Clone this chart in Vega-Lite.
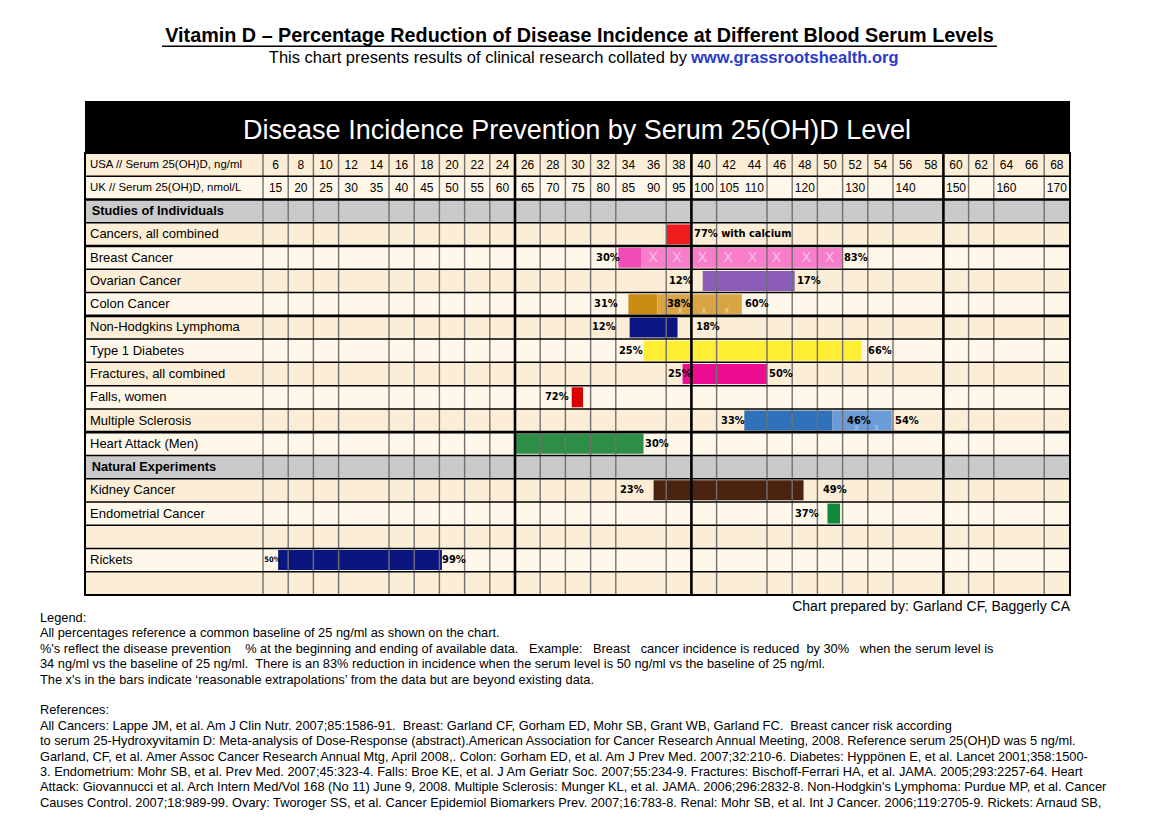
{
  "$schema": "https://vega.github.io/schema/vega-lite/v6.json",
  "width": 1153,
  "height": 839,
  "autosize": {"type": "none"},
  "padding": 0,
  "background": "#FFFFFF",
  "config": {"view": {"stroke": null}, "text": {"font": "Liberation Sans"}},
  "datasets": {
    "rows": [
      {"r": 0, "label": "USA // Serum 25(OH)D, ng/ml", "kind": "header"},
      {"r": 1, "label": "UK // Serum 25(OH)D, nmol/L", "kind": "header"},
      {"r": 2, "label": "Studies of Individuals", "kind": "section"},
      {"r": 3, "label": "Cancers, all combined", "kind": "study"},
      {"r": 4, "label": "Breast Cancer", "kind": "study"},
      {"r": 5, "label": "Ovarian Cancer", "kind": "study"},
      {"r": 6, "label": "Colon Cancer", "kind": "study"},
      {"r": 7, "label": "Non-Hodgkins Lymphoma", "kind": "study"},
      {"r": 8, "label": "Type 1 Diabetes", "kind": "study"},
      {"r": 9, "label": "Fractures, all combined", "kind": "study"},
      {"r": 10, "label": "Falls, women", "kind": "study"},
      {"r": 11, "label": "Multiple Sclerosis", "kind": "study"},
      {"r": 12, "label": "Heart Attack (Men)", "kind": "study"},
      {"r": 13, "label": "Natural Experiments", "kind": "section"},
      {"r": 14, "label": "Kidney Cancer", "kind": "study"},
      {"r": 15, "label": "Endometrial Cancer", "kind": "study"},
      {"r": 16, "label": "", "kind": "blank"},
      {"r": 17, "label": "Rickets", "kind": "study"},
      {"r": 18, "label": "", "kind": "blank"}
    ],
    "levels": [
      {"ng": 6, "nmol": 15}, {"ng": 8, "nmol": 20}, {"ng": 10, "nmol": 25}, {"ng": 12, "nmol": 30},
      {"ng": 14, "nmol": 35}, {"ng": 16, "nmol": 40}, {"ng": 18, "nmol": 45}, {"ng": 20, "nmol": 50},
      {"ng": 22, "nmol": 55}, {"ng": 24, "nmol": 60}, {"ng": 26, "nmol": 65}, {"ng": 28, "nmol": 70},
      {"ng": 30, "nmol": 75}, {"ng": 32, "nmol": 80}, {"ng": 34, "nmol": 85}, {"ng": 36, "nmol": 90},
      {"ng": 38, "nmol": 95}, {"ng": 40, "nmol": 100}, {"ng": 42, "nmol": 105}, {"ng": 44, "nmol": 110},
      {"ng": 46}, {"ng": 48, "nmol": 120}, {"ng": 50}, {"ng": 52, "nmol": 130},
      {"ng": 54}, {"ng": 56, "nmol": 140}, {"ng": 58}, {"ng": 60, "nmol": 150},
      {"ng": 62}, {"ng": 64, "nmol": 160}, {"ng": 66}, {"ng": 68, "nmol": 170}
    ],
    "bars": [
      {"r": 3, "start": 37.0, "end": 39.0, "bar": "Cancers, all combined"},
      {"r": 4, "start": 33.2, "end": 35.05, "bar": "Breast Cancer"},
      {"r": 4, "start": 35.05, "end": 50.95, "bar": "Breast Cancer (extrapolated)"},
      {"r": 5, "start": 39.9, "end": 47.2, "bar": "Ovarian Cancer"},
      {"r": 6, "start": 34.0, "end": 36.3, "bar": "Colon Cancer"},
      {"r": 6, "start": 36.3, "end": 43.0, "bar": "Colon Cancer (extrapolated)"},
      {"r": 7, "start": 34.1, "end": 37.9, "bar": "Non-Hodgkins Lymphoma"},
      {"r": 8, "start": 35.2, "end": 52.5, "bar": "Type 1 Diabetes"},
      {"r": 9, "start": 38.3, "end": 45.0, "bar": "Fractures, all combined"},
      {"r": 10, "start": 29.5, "end": 30.4, "bar": "Falls, women"},
      {"r": 11, "start": 43.2, "end": 50.2, "bar": "Multiple Sclerosis"},
      {"r": 11, "start": 50.2, "end": 54.9, "bar": "Multiple Sclerosis (extrapolated)"},
      {"r": 12, "start": 25.0, "end": 35.2, "bar": "Heart Attack (Men)"},
      {"r": 14, "start": 36.0, "end": 47.9, "bar": "Kidney Cancer"},
      {"r": 15, "start": 49.8, "end": 50.8, "bar": "Endometrial Cancer"},
      {"r": 17, "start": 6.2, "end": 19.2, "bar": "Rickets"}
    ],
    "xmarks": [
      {"r": 4, "v": 35.96, "m": "X"}, {"r": 4, "v": 37.86, "m": "X"}, {"r": 4, "v": 39.88, "m": "X"},
      {"r": 4, "v": 41.91, "m": "X"}, {"r": 4, "v": 43.85, "m": "X"}, {"r": 4, "v": 45.75, "m": "X"},
      {"r": 4, "v": 48.13, "m": "X"}, {"r": 4, "v": 49.98, "m": "X"},
      {"r": 6, "v": 38.1, "m": "x"}, {"r": 6, "v": 40.0, "m": "x"}, {"r": 6, "v": 41.8, "m": "x"},
      {"r": 11, "v": 52.1, "m": "x"}, {"r": 11, "v": 53.7, "m": "x"}
    ],
    "pct": [
      {"r": 3, "v": 39.21, "label": "77% with calcium"},
      {"r": 4, "v": 31.43, "label": "30%"}, {"r": 4, "v": 51.11, "label": "83%"},
      {"r": 5, "v": 37.22, "label": "12%"}, {"r": 5, "v": 47.38, "label": "17%"},
      {"r": 6, "v": 31.27, "label": "31%"}, {"r": 6, "v": 37.06, "label": "38%"}, {"r": 6, "v": 43.25, "label": "60%"},
      {"r": 7, "v": 31.11, "label": "12%"}, {"r": 7, "v": 39.37, "label": "18%"},
      {"r": 8, "v": 33.25, "label": "25%"}, {"r": 8, "v": 53.02, "label": "66%"},
      {"r": 9, "v": 37.14, "label": "25%"}, {"r": 9, "v": 45.16, "label": "50%"},
      {"r": 10, "v": 27.38, "label": "72%"},
      {"r": 11, "v": 41.35, "label": "33%"}, {"r": 11, "v": 51.35, "label": "46%"}, {"r": 11, "v": 55.16, "label": "54%"},
      {"r": 12, "v": 35.32, "label": "30%"},
      {"r": 14, "v": 33.33, "label": "23%"}, {"r": 14, "v": 49.44, "label": "49%"},
      {"r": 15, "v": 47.22, "label": "37%"},
      {"r": 17, "v": 5.1, "label": "50%"}, {"r": 17, "v": 19.21, "label": "99%"}
    ],
    "vlines": [
      {"v": 5}, {"v": 7}, {"v": 9}, {"v": 11}, {"v": 15}, {"v": 17}, {"v": 19}, {"v": 21}, {"v": 23},
      {"v": 25}, {"v": 27}, {"v": 29}, {"v": 31}, {"v": 33}, {"v": 37}, {"v": 39}, {"v": 41}, {"v": 45},
      {"v": 47}, {"v": 49}, {"v": 51}, {"v": 53}, {"v": 55}, {"v": 59}, {"v": 61}, {"v": 63}, {"v": 67}
    ],
    "notes": [
      {"line": 0, "t": "Legend:"},
      {"line": 1, "t": "All percentages reference a common baseline of 25 ng/ml as shown on the chart."},
      {"line": 2, "t": "%'s reflect the disease prevention\u00a0\u00a0\u00a0 % at the beginning and ending of available data.\u00a0\u00a0 Example:\u00a0\u00a0 Breast\u00a0\u00a0 cancer incidence is reduced\u00a0 by 30%\u00a0\u00a0 when the serum level is"},
      {"line": 3, "t": "34 ng/ml vs the baseline of 25 ng/ml.\u00a0 There is an 83% reduction in incidence when the serum level is 50 ng/ml vs the baseline of 25 ng/ml."},
      {"line": 4, "t": "The x's in the bars indicate \u2018reasonable extrapolations\u2019 from the data but are beyond existing data."},
      {"line": 6, "t": "References:"},
      {"line": 7, "t": "All Cancers: Lappe JM, et al. Am J Clin Nutr. 2007;85:1586-91.\u00a0 Breast: Garland CF, Gorham ED, Mohr SB, Grant WB, Garland FC.\u00a0 Breast cancer risk according"},
      {"line": 8, "t": "to serum 25-Hydroxyvitamin D: Meta-analysis of Dose-Response (abstract).American Association for Cancer Research Annual Meeting, 2008. Reference serum 25(OH)D was 5 ng/ml."},
      {"line": 9, "t": "Garland, CF, et al. Amer Assoc Cancer Research Annual Mtg, April 2008,. Colon: Gorham ED, et al. Am J Prev Med. 2007;32:210-6. Diabetes: Hypp\u00f6nen E, et al. Lancet 2001;358:1500-"},
      {"line": 10, "t": "3. Endometrium: Mohr SB, et al. Prev Med. 2007;45:323-4. Falls: Broe KE, et al. J Am Geriatr Soc. 2007;55:234-9. Fractures: Bischoff-Ferrari HA, et al. JAMA. 2005;293:2257-64. Heart"},
      {"line": 11, "t": "Attack: Giovannucci et al. Arch Intern Med/Vol 168 (No 11) June 9, 2008. Multiple Sclerosis: Munger KL, et al. JAMA. 2006;296:2832-8. Non-Hodgkin's Lymphoma: Purdue MP, et al. Cancer"},
      {"line": 12, "t": "Causes Control. 2007;18:989-99. Ovary: Tworoger SS, et al. Cancer Epidemiol Biomarkers Prev. 2007;16:783-8. Renal: Mohr SB, et al. Int J Cancer. 2006;119:2705-9. Rickets: Arnaud SB,"}
    ]
  },
  "layer": [
    {
      "layer": [
        {
          "data": {"values": [{"t": "Disease Incidence Prevention by Serum 25(OH)D Level"}]},
          "layer": [
            {
              "mark": {"type": "rect", "color": "#000000"},
              "encoding": {
                "x": {"datum": -9.127, "type": "quantitative", "scale": {"domain": [-15.873, 75.635], "nice": false, "zero": false}, "axis": null},
                "x2": {"datum": 69.05},
                "y": {"datum": -2.735, "type": "quantitative", "scale": {"domain": [-7.077, 28.989], "nice": false, "zero": false, "reverse": true}, "axis": null},
                "y2": {"datum": -0.5}
              }
            },
            {
              "mark": {"type": "text", "color": "#FFFFFF", "font": "Liberation Sans", "fontSize": 27, "align": "center", "baseline": "middle"},
              "encoding": {
                "x": {"datum": 29.92, "type": "quantitative"},
                "y": {"datum": -1.45, "type": "quantitative"},
                "text": {"field": "t"}
              }
            }
          ]
        },
        {
          "data": {"name": "rows"},
          "mark": {"type": "rule", "strokeWidth": 23.6, "strokeCap": "butt"},
          "encoding": {
            "x": {"datum": -9.127, "type": "quantitative"},
            "x2": {"datum": 69.05},
            "y": {"field": "r", "type": "quantitative"},
            "color": {
              "condition": [
                {"test": "datum.kind === 'section'", "value": "#CACACA"},
                {"test": "datum.r === 0 || (datum.r >= 3 && datum.r <= 12 && datum.r % 2 === 1) || (datum.r >= 14 && datum.r % 2 === 0)", "value": "#FCEED6"}
              ],
              "value": "#FFF8EA"
            }
          }
        },
        {
          "data": {"name": "bars"},
          "mark": {"type": "rule", "strokeWidth": 20, "strokeCap": "butt"},
          "encoding": {
            "x": {"field": "start", "type": "quantitative"},
            "x2": {"field": "end"},
            "y": {"field": "r", "type": "quantitative"},
            "color": {
              "field": "bar", "type": "nominal", "legend": null,
              "scale": {
                "domain": ["Cancers, all combined", "Breast Cancer", "Breast Cancer (extrapolated)", "Ovarian Cancer", "Colon Cancer", "Colon Cancer (extrapolated)", "Non-Hodgkins Lymphoma", "Type 1 Diabetes", "Fractures, all combined", "Falls, women", "Multiple Sclerosis", "Multiple Sclerosis (extrapolated)", "Heart Attack (Men)", "Kidney Cancer", "Endometrial Cancer", "Rickets"],
                "range": ["#EE1C1C", "#EF4DB5", "#F87DCA", "#8B5CB8", "#C98B14", "#D9A444", "#0B1584", "#FFEE33", "#EB0C92", "#D90000", "#2F72B9", "#6B9BD8", "#2E8E45", "#4A2410", "#118A3A", "#0B1580"]
              }
            }
          }
        },
        {
          "data": {"name": "xmarks"},
          "transform": [{"filter": "datum.m === 'X'"}],
          "mark": {"type": "text", "fontSize": 14, "color": "#F7C4E4", "align": "center", "baseline": "middle"},
          "encoding": {
            "x": {"field": "v", "type": "quantitative"},
            "y": {"field": "r", "type": "quantitative"},
            "text": {"field": "m"}
          }
        },
        {
          "data": {"name": "xmarks"},
          "transform": [{"filter": "datum.m === 'x'"}],
          "mark": {"type": "text", "fontSize": 9, "align": "center", "baseline": "middle", "dy": 6},
          "encoding": {
            "x": {"field": "v", "type": "quantitative"},
            "y": {"field": "r", "type": "quantitative"},
            "text": {"field": "m"},
            "color": {"condition": {"test": "datum.r === 6", "value": "#F2DDAA"}, "value": "#B4CCEE"}
          }
        },
        {
          "data": {"name": "vlines"},
          "mark": {"type": "rule"},
          "encoding": {
            "x": {"field": "v", "type": "quantitative"},
            "y": {"datum": -0.5, "type": "quantitative"},
            "y2": {"datum": 18.5},
            "color": {"condition": {"test": "indexof([25, 39, 59], datum.v) >= 0", "value": "#000000"}, "value": "#707070"},
            "strokeWidth": {"condition": {"test": "indexof([25, 39, 59], datum.v) >= 0", "value": 2.6}, "value": 1.4}
          }
        },
        {
          "data": {"name": "rows"},
          "mark": {"type": "rule", "color": "#000000", "yOffset": 11.63},
          "encoding": {
            "x": {"datum": -9.127, "type": "quantitative"},
            "x2": {"datum": 69.05},
            "y": {"field": "r", "type": "quantitative"},
            "strokeWidth": {"condition": {"test": "indexof([1, 3, 6, 11], datum.r) >= 0", "value": 2.6}, "value": 1.5}
          }
        },
        {
          "data": {"values": [{"t": "table"}]},
          "mark": {"type": "rect", "fill": "transparent", "stroke": "#000000", "strokeWidth": 2},
          "encoding": {
            "x": {"datum": -9.127, "type": "quantitative"},
            "x2": {"datum": 69.05},
            "y": {"datum": -0.5, "type": "quantitative"},
            "y2": {"datum": 18.5}
          }
        },
        {
          "data": {"name": "levels"},
          "mark": {"type": "text", "fontSize": 12, "align": "center", "baseline": "middle", "color": "#000000"},
          "encoding": {
            "x": {"field": "ng", "type": "quantitative"},
            "y": {"datum": 0, "type": "quantitative"},
            "text": {"field": "ng"}
          }
        },
        {
          "data": {"name": "levels"},
          "transform": [{"filter": "isValid(datum.nmol)"}],
          "mark": {"type": "text", "fontSize": 12, "align": "center", "baseline": "middle", "color": "#000000"},
          "encoding": {
            "x": {"field": "ng", "type": "quantitative"},
            "y": {"datum": 1, "type": "quantitative"},
            "text": {"field": "nmol"}
          }
        },
        {
          "data": {"name": "rows"},
          "transform": [{"filter": "datum.kind !== 'section'"}],
          "mark": {"type": "text", "align": "left", "baseline": "middle", "color": "#000000"},
          "encoding": {
            "x": {"datum": -8.73, "type": "quantitative"},
            "y": {"field": "r", "type": "quantitative"},
            "text": {"field": "label"},
            "size": {"condition": {"test": "datum.kind === 'header'", "value": 11.4}, "value": 13}
          }
        },
        {
          "data": {"name": "rows"},
          "transform": [{"filter": "datum.kind === 'section'"}],
          "mark": {"type": "text", "align": "left", "baseline": "middle", "color": "#000000", "fontWeight": "bold", "fontSize": 12.8},
          "encoding": {
            "x": {"datum": -8.6, "type": "quantitative"},
            "y": {"field": "r", "type": "quantitative"},
            "text": {"field": "label"}
          }
        },
        {
          "data": {"name": "pct"},
          "mark": {"type": "text", "align": "left", "baseline": "middle", "color": "#000000", "fontWeight": "bold", "font": "Liberation Sans Narrow, DejaVu Sans Condensed, Liberation Sans"},
          "encoding": {
            "x": {"field": "v", "type": "quantitative"},
            "y": {"field": "r", "type": "quantitative"},
            "text": {"field": "label"},
            "size": {"condition": {"test": "datum.r === 17 && datum.v < 10", "value": 7.5}, "value": 11}
          }
        },
        {
          "data": {"values": [{"t": "Vitamin D \u2013 Percentage Reduction of Disease Incidence at Different Blood Serum Levels"}]},
          "layer": [
            {
              "mark": {"type": "text", "align": "center", "baseline": "middle", "fontWeight": "bold", "fontSize": 19.8, "color": "#000000"},
              "encoding": {
                "x": {"datum": 30.12, "type": "quantitative"},
                "y": {"datum": -5.51, "type": "quantitative"},
                "text": {"field": "t"}
              }
            },
            {
              "mark": {"type": "rule", "color": "#000000", "strokeWidth": 1.5},
              "encoding": {
                "x": {"datum": -3.016, "type": "quantitative"},
                "x2": {"datum": 63.25},
                "y": {"datum": -5.09, "type": "quantitative"}
              }
            }
          ]
        },
        {
          "data": {"values": [{"t": "This chart presents results of clinical research collated by"}]},
          "mark": {"type": "text", "align": "right", "baseline": "middle", "fontSize": 16.5, "color": "#000000"},
          "encoding": {
            "x": {"datum": 38.65, "type": "quantitative"},
            "y": {"datum": -4.584, "type": "quantitative"},
            "text": {"field": "t"}
          }
        },
        {
          "data": {"values": [{"t": "www.grassrootshealth.org"}]},
          "mark": {"type": "text", "align": "left", "baseline": "middle", "fontSize": 16.5, "fontWeight": "bold", "color": "#2A3BCB"},
          "encoding": {
            "x": {"datum": 38.97, "type": "quantitative"},
            "y": {"datum": -4.584, "type": "quantitative"},
            "text": {"field": "t"}
          }
        },
        {
          "data": {"values": [{"t": "Chart prepared by: Garland CF, Baggerly CA"}]},
          "mark": {"type": "text", "align": "right", "baseline": "middle", "fontSize": 14, "color": "#000000"},
          "encoding": {
            "x": {"datum": 69.05, "type": "quantitative"},
            "y": {"datum": 19.02, "type": "quantitative"},
            "text": {"field": "t"}
          }
        }
      ]
    },
    {
      "data": {"name": "notes"},
      "mark": {"type": "text", "align": "left", "baseline": "middle", "fontSize": 12.8, "color": "#000000"},
      "encoding": {
        "x": {"datum": -12.7, "type": "quantitative"},
        "y": {"field": "line", "type": "quantitative", "scale": {"domain": [-40.13, 14.35], "nice": false, "zero": false, "reverse": true}, "axis": null},
        "text": {"field": "t"}
      }
    }
  ],
  "resolve": {"scale": {"y": "independent"}}
}
